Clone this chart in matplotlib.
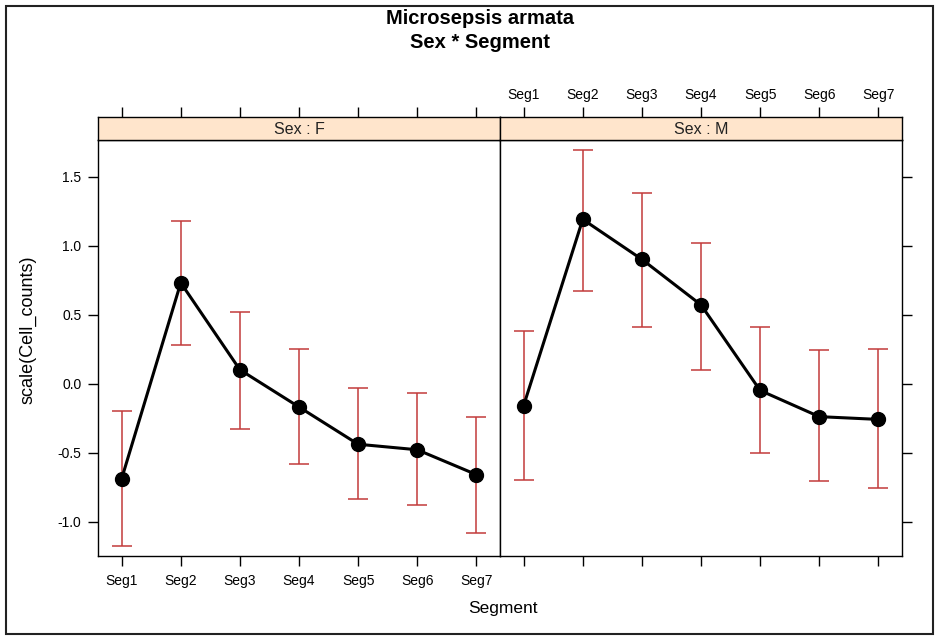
import matplotlib.pyplot as plt
from matplotlib.patches import Rectangle

plt.rcParams['font.family'] = ['Liberation Sans', 'DejaVu Sans']

segments = ["Seg1", "Seg2", "Seg3", "Seg4", "Seg5", "Seg6", "Seg7"]
sexes = ["F", "M"]

fit_f = [-0.69, 0.73, 0.10, -0.17, -0.44, -0.48, -0.66]
upper_f = [-0.20, 1.18, 0.52, 0.25, -0.03, -0.07, -0.24]
lower_f = [-1.18, 0.28, -0.33, -0.58, -0.84, -0.88, -1.08]

fit_m = [-0.16, 1.19, 0.90, 0.57, -0.05, -0.24, -0.26]
upper_m = [0.38, 1.69, 1.38, 1.02, 0.41, 0.24, 0.25]
lower_m = [-0.70, 0.67, 0.41, 0.10, -0.50, -0.71, -0.76]

W, H = 938, 640
fig = plt.figure(figsize=(W / 100, H / 100), dpi=100)

# outer frame
fig.patches.append(Rectangle((6 / W, 6 / H), 927 / W, 628 / H, transform=fig.transFigure,
                             fill=False, edgecolor="#222222", linewidth=1.5))

err_col = "#C23B3B"
x = list(range(1, 8))
panel_l, panel_w = 98, 402
panel_top, panel_bot = 140, 556
strip_top = 117
tick_fs = 10

data = {"F": (fit_f, lower_f, upper_f), "M": (fit_m, lower_m, upper_m)}

for i, sex in enumerate(sexes):
    left = panel_l + i * panel_w
    ax = fig.add_axes([left / W, 1 - panel_bot / H, panel_w / W, (panel_bot - panel_top) / H])
    fit, lo, up = data[sex]
    yerr = [[f - l for f, l in zip(fit, lo)], [u - f for f, u in zip(fit, up)]]
    ax.errorbar(x, fit, yerr=yerr, fmt="none", ecolor=err_col, elinewidth=1.1,
                capsize=7, capthick=1.1, zorder=2)
    ax.plot(x, fit, color="black", linewidth=2.2, marker="o", markersize=10, zorder=3)
    ax.set_xlim(0.6, 7.4)
    ax.set_ylim(-1.25, 1.765)
    ax.set_xticks(x)
    ax.set_yticks([-1.0, -0.5, 0.0, 0.5, 1.0, 1.5])
    ax.tick_params(direction="out", length=7, width=1, labelsize=tick_fs, colors="black")
    for sp in ax.spines.values():
        sp.set_linewidth(1)
    if i == 0:
        ax.set_xticklabels(segments)
        ax.set_yticklabels(["-1.0", "-0.5", "0.0", "0.5", "1.0", "1.5"])
        ax.tick_params(axis="y", left=True, right=False, pad=5)
        ax.tick_params(axis="x", pad=6)
    else:
        ax.set_xticklabels([])
        ax.yaxis.tick_right()
        ax.set_yticklabels([])

    # strip
    sax = fig.add_axes([left / W, 1 - panel_top / H, panel_w / W, (panel_top - strip_top) / H])
    sax.set_facecolor("#FFE5CC")
    sax.set_xlim(0.6, 7.4)
    sax.set_ylim(0, 1)
    sax.text(4, 0.45, "Sex : " + sex, ha="center", va="center", fontsize=11.5, color="#222222")
    sax.set_yticks([])
    sax.xaxis.tick_top()
    sax.set_xticks(x)
    sax.tick_params(direction="out", length=7, width=1, labelsize=tick_fs, pad=4)
    if i == 1:
        sax.set_xticklabels(segments)
    else:
        sax.set_xticklabels([])
    for sp in sax.spines.values():
        sp.set_linewidth(1)

fig.text(480 / W, 1 - 19 / H, "Microsepsis armata", ha="center", va="center",
         fontsize=14.5, fontweight="bold")
fig.text(480 / W, 1 - 42 / H, "Sex * Segment", ha="center", va="center",
         fontsize=14.5, fontweight="bold")
fig.text(503 / W, 1 - 608 / H, "Segment", ha="center", va="center", fontsize=12.5)
fig.text(28 / W, 1 - 330 / H, "scale(Cell_counts)", ha="center", va="center",
         rotation=90, fontsize=13)

fig.savefig("out.png", dpi=100)
